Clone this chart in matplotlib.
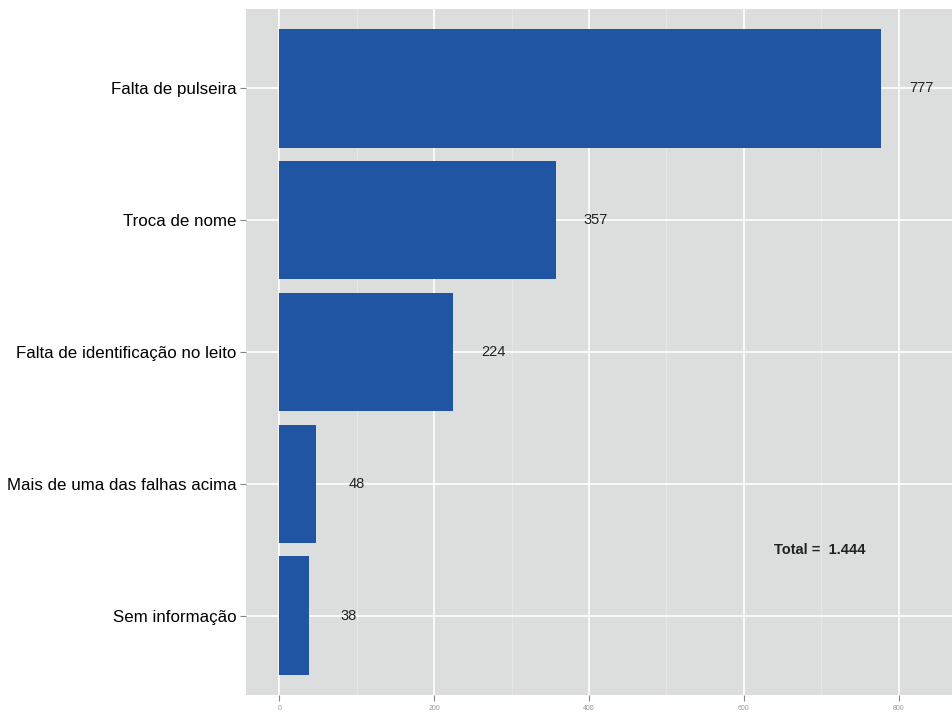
import matplotlib.pyplot as plt

# Data (top to bottom)
categories = ["Falta de pulseira", "Troca de nome", "Falta de identificação no leito",
              "Mais de uma das falhas acima", "Sem informação"]
counts = [777, 357, 224, 48, 38]
total_label = "Total =  1.444"
x_ticks = [0, 200, 400, 600, 800]
x_minor = [100, 300, 500, 700]

plt.rcParams['font.family'] = ['Liberation Sans', 'DejaVu Sans']

fig = plt.figure(figsize=(9.52, 7.12), dpi=100)
ax = fig.add_axes([246 / 952, 17 / 712, 1 - 246 / 952, 686 / 712])

panel_bg = "#DCDDDD"
bar_color = "#1F55A3"
ax.set_facecolor(panel_bg)

pos = list(range(len(categories), 0, -1))
ax.barh(pos, counts, height=0.9, color=bar_color, zorder=3)

# value labels to the right of each bar
for p, c in zip(pos, counts):
    ax.text(c + 52, p, str(c), ha="center", va="center", fontsize=10.5, color="#222222", zorder=4)

ax.text(698, 1.5, total_label, ha="center", va="center", fontsize=10.5,
        fontweight="bold", color="#222222", zorder=4)

ax.set_xlim(-43, 869)
ax.set_ylim(0.4, len(categories) + 0.6)

ax.set_xticks(x_ticks)
ax.set_xticks(x_minor, minor=True)
ax.set_yticks(pos)
ax.set_yticklabels(categories)

ax.grid(which="major", color="white", linewidth=1.2, zorder=0)
ax.grid(which="minor", axis="x", color="#E8E8E8", linewidth=0.6, zorder=0)
ax.set_axisbelow(True)

for s in ax.spines.values():
    s.set_visible(False)

ax.tick_params(axis="y", length=4, color="#888888", labelsize=12.2, labelcolor="black", pad=3)
ax.tick_params(axis="x", which="major", length=4, color="#888888", labelsize=5, labelcolor="#999999", pad=3)
ax.tick_params(axis="x", which="minor", length=0)

fig.savefig("out.png", dpi=100, facecolor="white")
